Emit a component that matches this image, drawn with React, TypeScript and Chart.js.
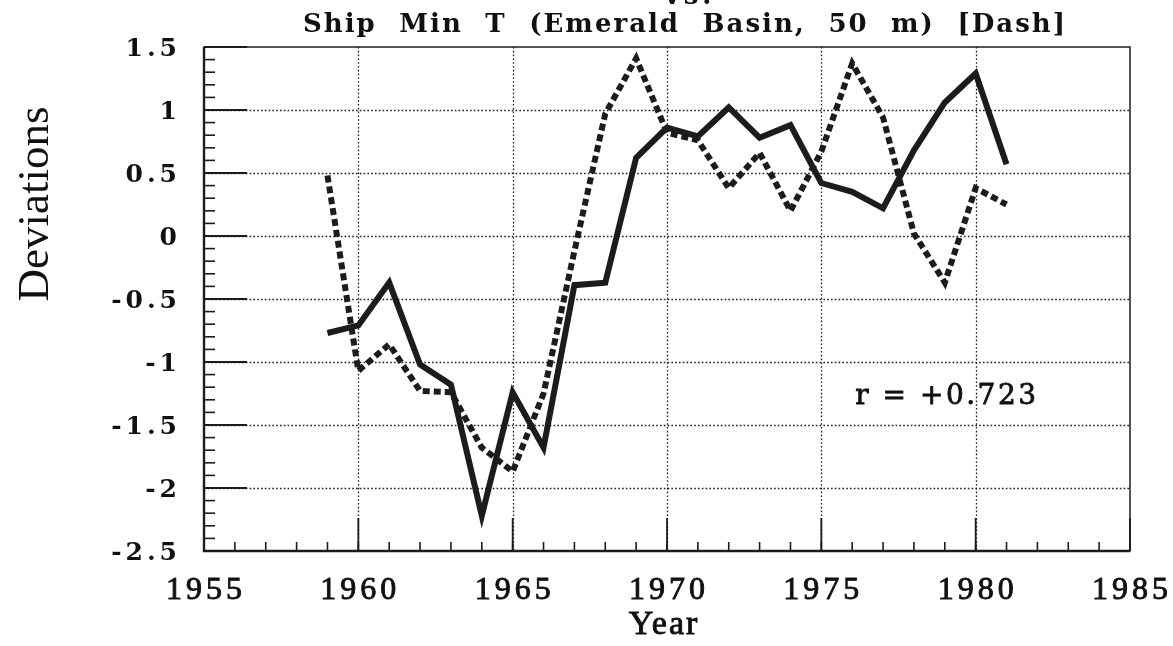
import React, { useEffect, useRef } from "react";
import { Chart, registerables } from "chart.js";

Chart.register(...registerables);

// ---------- data ----------
const years = [
  1959, 1960, 1961, 1962, 1963, 1964, 1965, 1966, 1967, 1968, 1969, 1970,
  1971, 1972, 1973, 1974, 1975, 1976, 1977, 1978, 1979, 1980, 1981,
];
// solid line series
const solidValues = [
  -0.77, -0.71, -0.37, -1.02, -1.18, -2.22, -1.24, -1.68, -0.39, -0.37, 0.62,
  0.86, 0.79, 1.02, 0.78, 0.88, 0.42, 0.35, 0.22, 0.68, 1.06, 1.29, 0.57,
];
// dashed line series: Ship Min T (Emerald Basin, 50 m)
const dashedValues = [
  0.48, -1.07, -0.86, -1.23, -1.24, -1.68, -1.87, -1.25, -0.12, 0.97, 1.41,
  0.82, 0.76, 0.38, 0.66, 0.2, 0.67, 1.37, 0.94, 0.02, -0.37, 0.38, 0.25,
];
const xTickValues = [1955, 1960, 1965, 1970, 1975, 1980, 1985];
const xTickLabels = ["1955", "1960", "1965", "1970", "1975", "1980", "1985"];
const yTickValues = [1.5, 1, 0.5, 0, -0.5, -1, -1.5, -2, -2.5];
const yTickLabels = ["1.5", "1", "0.5", "0", "-0.5", "-1", "-1.5", "-2", "-2.5"];
const titleTop = "vs.";
const titleMain = "Ship Min T (Emerald Basin, 50 m) [Dash]";
const xAxisTitle = "Year";
const yAxisTitle = "Deviations";
const rText = "r = +0.723";
const rTextPos = { x: 1976.1, y: -1.33 };

const X_MIN = 1955;
const X_MAX = 1985;
const Y_MIN = -2.5;
const Y_MAX = 1.5;

const INK = "#1c1c1c";

function spacedText(
  ctx: CanvasRenderingContext2D,
  text: string,
  x: number,
  y: number,
  align: "left" | "center" | "right",
  spacing: number,
  stroke = 0
) {
  (ctx as any).letterSpacing = spacing + "px";
  ctx.textAlign = "left";
  const w = ctx.measureText(text).width - spacing;
  let sx = x;
  if (align === "center") sx = x - w / 2;
  else if (align === "right") sx = x - w;
  ctx.fillText(text, sx, y);
  if (stroke > 0) {
    ctx.lineWidth = stroke;
    ctx.strokeStyle = ctx.fillStyle as string;
    ctx.strokeText(text, sx, y);
  }
  (ctx as any).letterSpacing = "0px";
}

const decorPlugin = {
  id: "decor",
  beforeDatasetsDraw(chart: any) {
    const { ctx, chartArea } = chart;
    const xs = chart.scales.x;
    const ys = chart.scales.y;
    const { left, right, top, bottom } = chartArea;
    ctx.save();
    // dotted grid
    ctx.strokeStyle = INK;
    ctx.lineWidth = 1.3;
    ctx.setLineDash([1.6, 2.2]);
    yTickValues.forEach((v) => {
      if (v === Y_MIN || v === Y_MAX) return;
      const py = Math.round(ys.getPixelForValue(v)) + 0.5;
      ctx.beginPath();
      ctx.moveTo(left, py);
      ctx.lineTo(right, py);
      ctx.stroke();
    });
    xTickValues.forEach((v) => {
      if (v === X_MIN || v === X_MAX) return;
      const px = Math.round(xs.getPixelForValue(v)) + 0.5;
      ctx.beginPath();
      ctx.moveTo(px, top);
      ctx.lineTo(px, bottom);
      ctx.stroke();
    });
    ctx.setLineDash([]);
    // major ticks (long, inward)
    ctx.lineWidth = 1.8;
    yTickValues.forEach((v) => {
      const py = ys.getPixelForValue(v);
      ctx.beginPath();
      ctx.moveTo(left, py);
      ctx.lineTo(left + 43, py);
      ctx.stroke();
    });
    xTickValues.forEach((v) => {
      const px = xs.getPixelForValue(v);
      ctx.beginPath();
      ctx.moveTo(px, bottom);
      ctx.lineTo(px, bottom - 33);
      ctx.stroke();
    });
    // minor ticks
    ctx.lineWidth = 1.6;
    for (let i = 0; i <= 40; i++) {
      const v = Y_MIN + i * 0.1;
      const py = ys.getPixelForValue(v);
      ctx.beginPath();
      ctx.moveTo(left, py);
      ctx.lineTo(left + 11, py);
      ctx.stroke();
    }
    for (let yr = X_MIN; yr <= X_MAX; yr++) {
      const px = xs.getPixelForValue(yr);
      ctx.beginPath();
      ctx.moveTo(px, bottom);
      ctx.lineTo(px, bottom - 9);
      ctx.stroke();
    }
    // frame
    ctx.lineWidth = 1.5;
    ctx.strokeRect(left, top, right - left, bottom - top);
    ctx.lineWidth = 2.4;
    ctx.beginPath();
    ctx.moveTo(left, top);
    ctx.lineTo(left, bottom);
    ctx.lineTo(right, bottom);
    ctx.stroke();
    ctx.restore();
  },
  afterDraw(chart: any) {
    const { ctx } = chart;
    const xs = chart.scales.x;
    const ys = chart.scales.y;
    ctx.save();
    ctx.fillStyle = "#111";
    ctx.textBaseline = "alphabetic";

    // y tick labels
    ctx.font = 'bold 25px "DejaVu Serif"';
    yTickValues.forEach((v, i) => {
      const py = ys.getPixelForValue(v);
      spacedText(ctx, yTickLabels[i], 177, py + 9, "right", 4);
    });

    // x tick labels
    ctx.font = '32px "Liberation Serif"';
    xTickValues.forEach((v, i) => {
      const px = xs.getPixelForValue(v);
      spacedText(ctx, xTickLabels[i], px, 599, "center", 4, 0.9);
    });

    // x axis title
    ctx.font = '34px "Liberation Serif"';
    spacedText(ctx, xAxisTitle, 663, 634, "center", 2, 0.9);

    // y axis title
    ctx.save();
    ctx.translate(48, 204);
    ctx.rotate(-Math.PI / 2);
    ctx.font = '45px "Liberation Serif"';
    spacedText(ctx, yAxisTitle, 0, 0, "center", 0);
    ctx.restore();

    // title
    ctx.font = 'bold 26px "DejaVu Serif"';
    (ctx as any).letterSpacing = "2px";
    (ctx as any).wordSpacing = "0px";
    const natural = ctx.measureText(titleMain).width - 2;
    const target = 762;
    const words = titleMain.split(" ").length - 1;
    const ws = Math.max(0, (target - natural) / words);
    (ctx as any).wordSpacing = ws + "px";
    spacedText(ctx, titleMain, 684, 32, "center", 2);
    (ctx as any).wordSpacing = "0px";
    spacedText(ctx, titleTop, 688, 4, "center", 4);

    // r annotation
    ctx.font = '28px "DejaVu Serif"';
    spacedText(
      ctx,
      rText,
      xs.getPixelForValue(rTextPos.x),
      ys.getPixelForValue(rTextPos.y),
      "left",
      2.5,
      0.8
    );
    ctx.restore();
  },
};

export default function App() {
  const canvasRef = useRef<HTMLCanvasElement | null>(null);

  useEffect(() => {
    if (!canvasRef.current) return;
    const chart = new Chart(canvasRef.current, {
      type: "line",
      data: {
        datasets: [
          {
            label: "Solid",
            data: years.map((yr, i) => ({ x: yr, y: solidValues[i] })),
            borderColor: INK,
            borderWidth: 6,
            borderJoinStyle: "miter",
            pointRadius: 0,
            tension: 0,
            fill: false,
          },
          {
            label: "Ship Min T (Emerald Basin, 50 m)",
            data: years.map((yr, i) => ({ x: yr, y: dashedValues[i] })),
            borderColor: INK,
            borderWidth: 6,
            borderDash: [7, 4],
            borderJoinStyle: "miter",
            pointRadius: 0,
            tension: 0,
            fill: false,
          },
        ],
      },
      options: {
        animation: false,
        responsive: true,
        maintainAspectRatio: false,
        layout: { padding: { top: 47, right: 43, left: 0, bottom: 0 } },
        plugins: {
          legend: { display: false },
          title: { display: false },
          tooltip: { enabled: false },
        },
        scales: {
          x: {
            type: "linear",
            min: X_MIN,
            max: X_MAX,
            grid: { display: false },
            border: { display: false },
            ticks: { display: false },
            afterFit: (scale: any) => {
              scale.height = 95;
            },
          },
          y: {
            type: "linear",
            min: Y_MIN,
            max: Y_MAX,
            grid: { display: false },
            border: { display: false },
            ticks: { display: false },
            afterFit: (scale: any) => {
              scale.width = 204;
            },
          },
        },
      },
      plugins: [decorPlugin],
    } as any);
    return () => chart.destroy();
  }, []);

  return (
    <div
      style={{
        position: "fixed",
        left: 0,
        top: 0,
        width: 1173,
        height: 646,
        background: "#fff",
      }}
    >
      <canvas ref={canvasRef} />
    </div>
  );
}
